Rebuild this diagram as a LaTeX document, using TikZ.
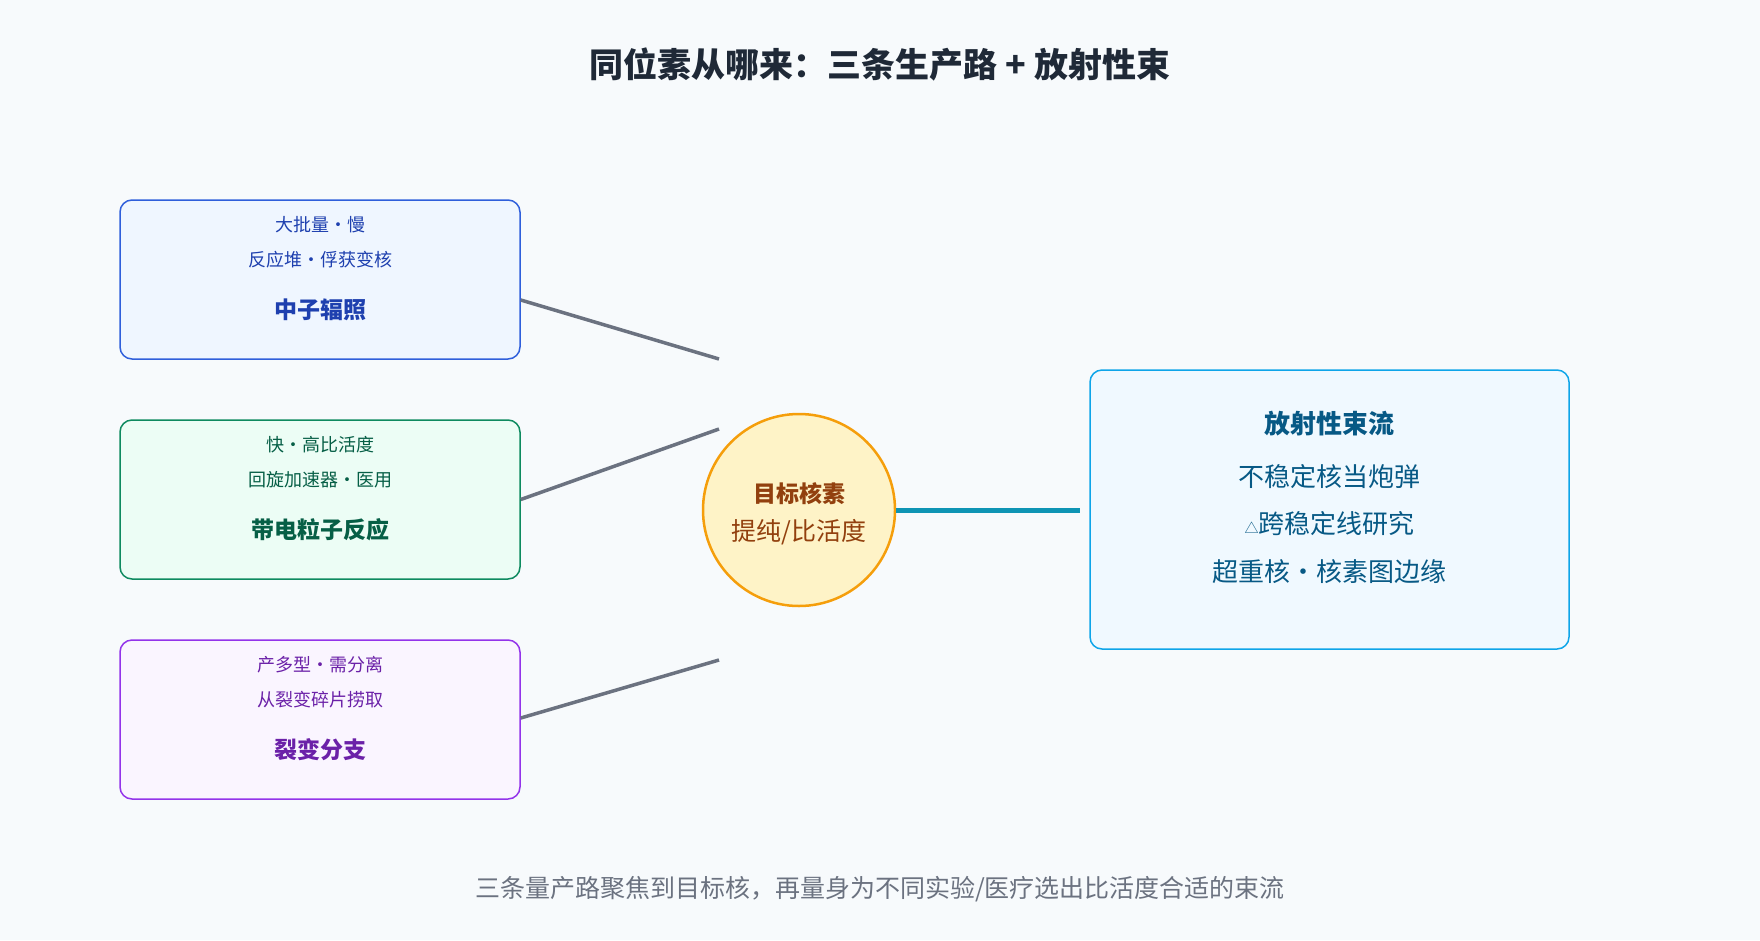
\documentclass[tikz,border=0pt]{standalone}
\usepackage{fontspec}
\setmainfont{Noto Sans CJK SC}
\usepackage{tikz}
\definecolor{bg}{HTML}{F7FAFC}
\definecolor{ink}{HTML}{1F2937}
\definecolor{grey}{HTML}{6B7280}
\definecolor{nrline}{HTML}{2F5FDB}\definecolor{nrfill}{HTML}{EFF6FF}\definecolor{nrtext}{HTML}{1E40AF}
\definecolor{cpline}{HTML}{0E8A5F}\definecolor{cpfill}{HTML}{ECFDF5}\definecolor{cptext}{HTML}{065F46}
\definecolor{fbline}{HTML}{9333EA}\definecolor{fbfill}{HTML}{FAF5FF}\definecolor{fbtext}{HTML}{6B21A8}
\definecolor{tgline}{HTML}{F59E0B}\definecolor{tgfill}{HTML}{FEF3C7}\definecolor{tgtext}{HTML}{92400E}
\definecolor{rbline}{HTML}{0EA5E9}\definecolor{rbfill}{HTML}{F0F9FF}\definecolor{rbtext}{HTML}{075985}
\definecolor{beam}{HTML}{0E94B4}
\newcommand{\pfont}[1]{\fontsize{#1}{#1}\selectfont}

\begin{document}
\begin{tikzpicture}[x=1pt,y=-1pt,
  route/.style={draw, rounded corners=12, line width=1.5, minimum width=400, minimum height=159},
  lnk/.style={line width=3.5, grey}]
      \fill[bg] (0,0) rectangle (1760,940);
      \useasboundingbox (0,0) rectangle (1760,940);
      \node (title) at (880,65) [ink] {\pfont{34}\bfseries 同位素从哪来：三条生产路 + 放射性束};

          % three routes
      \node (nr) at (320,279.5) [route, draw=nrline, fill=nrfill] {};
      \node (cp) at (320,499.5) [route, draw=cpline, fill=cpfill] {};
      \node (fb) at (320,719.5) [route, draw=fbline, fill=fbfill] {};
      \foreach \n/\a/\b/\d in {nr/中子辐照/反应堆·俘获变核/大批量·慢,
                               cp/带电粒子反应/回旋加速器·医用/快·高比活度,
                               fb/裂变分支/从裂变碎片捞取/产多型·需分离}
      {
        \node[text=\n text] at ([yshift=-30]\n.center) {\pfont{23}\bfseries \a};
        \node[text=\n text] at ([yshift=20]\n.center) {\pfont{18}\b};
        \node[text=\n text] at ([yshift=55]\n.center) {\pfont{18}\d};
      }

          % target
      \node (tg) at (799,510) [draw=tgline, line width=2.5, circle, minimum size=192, fill=tgfill] {};
      \node at (799,494) [tgtext] {\pfont{23}\bfseries 目标核素};
      \node at (799,532) [tgtext] {\pfont{25}提纯/比活度};

          % beam
      \node (rb) at (1329.5,509.5) [route, minimum width=479, minimum height=279, draw=rbline, fill=rbfill] {};
      \foreach \y/\t in {424/{\bfseries 放射性束流}, 477/不稳定核当炮弹, 524/{\pfont{14}△}跨稳定线研究, 572/超重核·核素图边缘}
        \node[rbtext] at (1329.5,\y) {\pfont{26}\t};

      \coordinate (e1) at (719,359);
      \coordinate (e2) at (719,429);
      \coordinate (e3) at (719,660);
      \coordinate (e4) at (1080,510);
      \draw[lnk] (nr.east |- 0,300) -- (e1);
      \draw[lnk] (cp.east) -- (e2);
      \draw[lnk] (fb.east |- 0,718) -- (e3);
      \draw[line width=5, beam] (tg.east) -- (e4);

      \node (foot) at (880,889) [grey] {\pfont{25}三条量产路聚焦到目标核，再量身为不同实验/医疗选出比活度合适的束流};
\end{tikzpicture}
\end{document}
